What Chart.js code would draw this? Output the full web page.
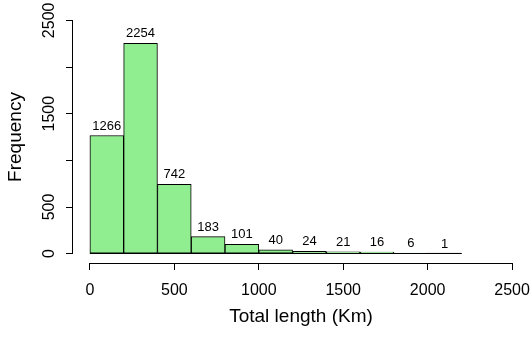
<!DOCTYPE html>
<html>
<head>
<meta charset="utf-8">
<script src="https://cdn.jsdelivr.net/npm/chart.js@4/dist/chart.umd.min.js"></script>
<style>
  html, body { margin: 0; padding: 0; background: #fff; }
  #wrap { width: 530px; height: 337px; }
</style>
</head>
<body>
<div id="wrap"><canvas id="hist" width="530" height="337"></canvas></div>
<script>
// Histogram bin edges (km) and the counts in each bin
const breaks = [0, 200, 400, 600, 800, 1000, 1200, 1400, 1600, 1800, 2000, 2200];
const counts = [1266, 2254, 742, 183, 101, 40, 24, 21, 16, 6, 1];

// Axis ticks
const xTicks = [0, 500, 1000, 1500, 2000, 2500];
const yTicks = [0, 500, 1000, 1500, 2000, 2500];
const yTickLabels = ['0', '500', '', '1500', '', '2500'];

const FONT = '"Liberation Sans", Arial, Helvetica, sans-serif';

const points = counts.map((c, i) => ({ x: (breaks[i] + breaks[i + 1]) / 2, y: c }));

// Draws the detached axis lines, the histogram baseline and the count labels
const histDecor = {
  id: 'histDecor',
  afterDatasetsDraw(chart) {
    const { ctx, chartArea, scales: { x, y } } = chart;
    ctx.save();
    ctx.strokeStyle = '#000';
    ctx.lineWidth = 1;
    // bottom edge of the bars
    const y0 = Math.round(y.getPixelForValue(0)) - 0.5;
    ctx.beginPath();
    ctx.moveTo(x.getPixelForValue(breaks[0]), y0);
    ctx.lineTo(x.getPixelForValue(breaks[breaks.length - 1]), y0);
    ctx.stroke();
    // x axis line
    const ya = Math.round(chartArea.bottom) + 0.5;
    ctx.beginPath();
    ctx.moveTo(x.getPixelForValue(xTicks[0]), ya);
    ctx.lineTo(x.getPixelForValue(xTicks[xTicks.length - 1]), ya);
    ctx.stroke();
    // y axis line
    const xa = Math.round(chartArea.left) - 0.5;
    ctx.beginPath();
    ctx.moveTo(xa, y.getPixelForValue(yTicks[0]));
    ctx.lineTo(xa, y.getPixelForValue(yTicks[yTicks.length - 1]));
    ctx.stroke();
    // count labels above each bar
    ctx.fillStyle = '#000';
    ctx.font = '13px ' + FONT;
    ctx.textAlign = 'center';
    ctx.textBaseline = 'alphabetic';
    const meta = chart.getDatasetMeta(0);
    meta.data.forEach((bar, i) => {
      ctx.fillText(String(counts[i]), bar.x, bar.y - 6);
    });
    ctx.restore();
  }
};

new Chart(document.getElementById('hist'), {
  type: 'bar',
  data: {
    datasets: [{
      data: points,
      backgroundColor: '#90EE90',
      borderColor: '#000',
      borderWidth: 1,
      borderSkipped: false,
      barPercentage: 1,
      categoryPercentage: 1
    }]
  },
  options: {
    responsive: false,
    animation: false,
    layout: { padding: { top: 11, right: 1, left: 0, bottom: 0 } },
    plugins: { legend: { display: false }, tooltip: { enabled: false } },
    scales: {
      x: {
        type: 'linear',
        min: -100,
        max: 2600,
        offset: false,
        afterBuildTicks: s => { s.ticks = xTicks.map(v => ({ value: v })); },
        afterFit: s => { s.height = 74; s.paddingLeft = 0; s.paddingRight = 0; },
        grid: { offset: false, drawOnChartArea: false, drawTicks: true, tickLength: 7, color: '#000' },
        border: { display: false },
        ticks: {
          color: '#000',
          font: { family: FONT, size: 16 },
          padding: 11,
          maxRotation: 0,
          autoSkip: false,
          callback: v => String(v)
        },
        title: {
          display: true,
          text: 'Total length (Km)',
          color: '#000',
          font: { family: FONT, size: 19 },
          padding: { top: 0, bottom: 9 }
        }
      },
      y: {
        type: 'linear',
        min: -100,
        max: 2600,
        afterBuildTicks: s => { s.ticks = yTicks.map(v => ({ value: v })); },
        afterFit: s => { s.width = 73; s.paddingTop = 0; s.paddingBottom = 0; },
        grid: { drawOnChartArea: false, drawTicks: true, tickLength: 7, color: '#000' },
        border: { display: false },
        ticks: {
          color: '#000',
          font: { family: FONT, size: 16 },
          padding: -1,
          minRotation: 90,
          maxRotation: 90,
          crossAlign: 'center',
          autoSkip: false,
          callback: (v, i) => yTickLabels[i]
        },
        title: {
          display: true,
          text: 'Frequency',
          color: '#000',
          font: { family: FONT, size: 19 },
          padding: { top: 4, bottom: 0 }
        }
      }
    }
  },
  plugins: [histDecor]
});
</script>
</body>
</html>
